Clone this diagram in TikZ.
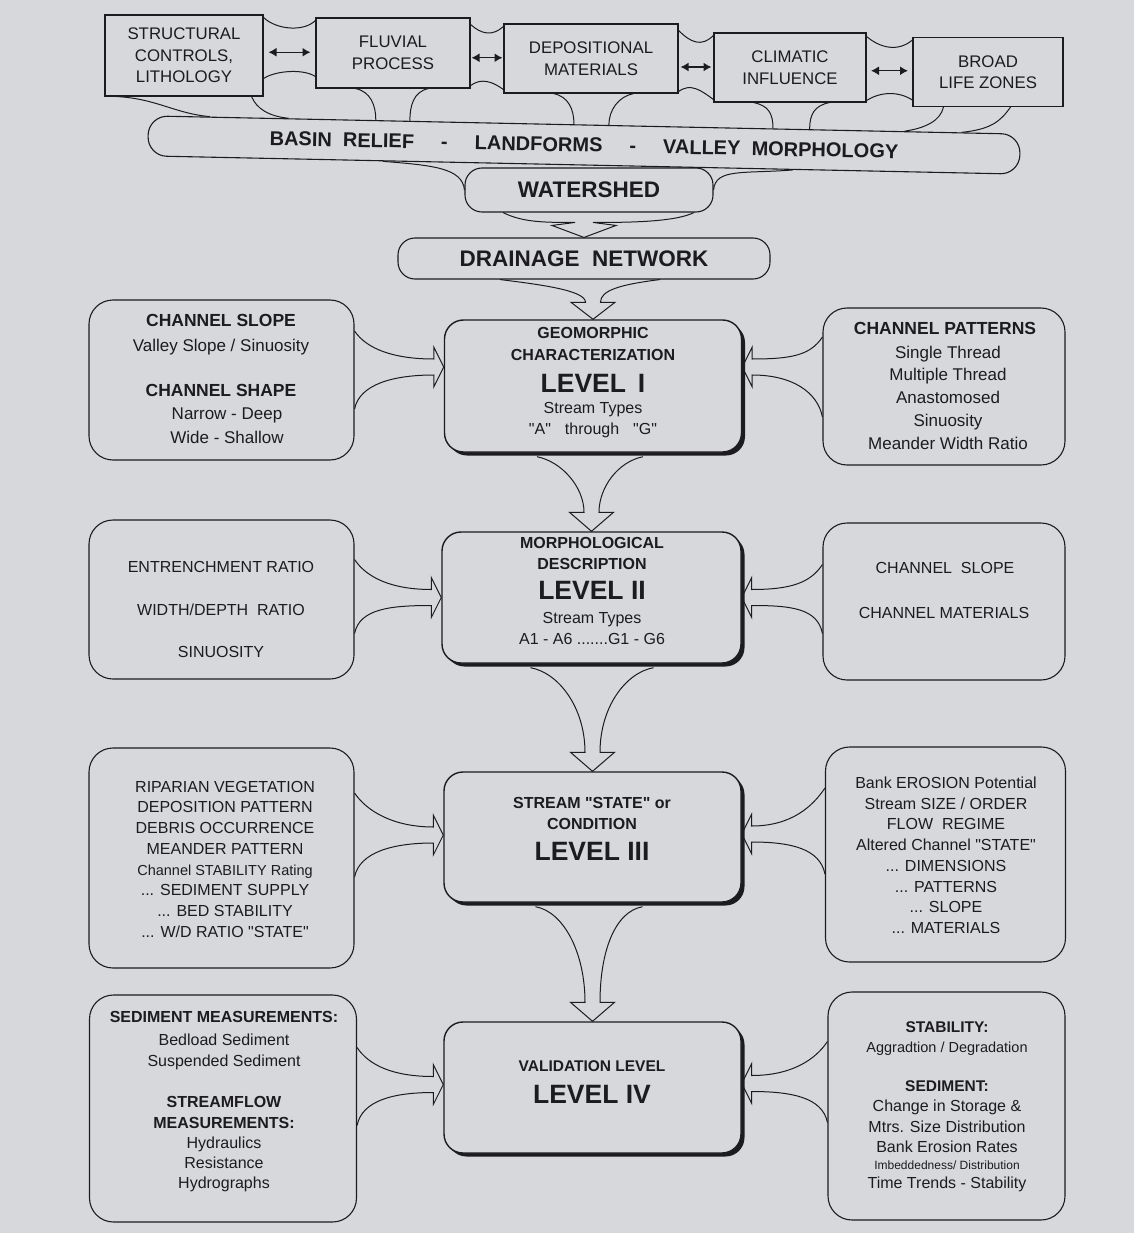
\documentclass[tikz,border=0pt]{standalone}
\usepackage{fontspec}
\setmainfont{Liberation Sans}[Ligatures=TeXOff]
\usetikzlibrary{calc,arrows.meta,shadows}
\definecolor{bg}{RGB}{215,216,220}
\definecolor{ink}{RGB}{28,28,30}
\newcommand\fsz[2]{\fontsize{#1}{#2}\selectfont}
\tikzset{
 tx/.style={inner sep=0pt, text depth=0pt, text=ink},
 B15/.style={tx, font=\fsz{15.5}{18}\bfseries, text height=11.2pt},
 B16/.style={tx, font=\fsz{16}{19}\bfseries, text height=11.5pt},
 B17/.style={tx, font=\fsz{17.5}{21}\bfseries, text height=12.6pt},
 BL/.style={tx, font=\fsz{26.5}{30}\bfseries, text height=19.1pt},
 R12/.style={tx, font=\fsz{12}{14}, text height=8.6pt},
 R14/.style={tx, font=\fsz{14.5}{17}, text height=10.4pt},
 R16/.style={tx, font=\fsz{16}{19}, text height=11.5pt},
 R17/.style={tx, font=\fsz{17}{20}, text height=12.2pt},
 topbox/.style={draw=ink, line width=1.1pt, inner sep=0pt, align=center, text=ink, font=\fsz{16.8}{21.5}},
 pill/.style={draw=ink, line width=1.1pt, rounded corners=17pt, inner sep=0pt, text=ink, font=\fsz{22.5}{26}\bfseries},
 side/.style={draw=ink, line width=1.1pt, rounded corners=24pt, inner sep=0pt},
 lvl/.style={draw=ink, line width=1.4pt, rounded corners=19pt, inner sep=0pt, fill=bg,
   drop shadow={shadow xshift=3.5pt, shadow yshift=-3.5pt, opacity=1, fill=ink}},
 conn/.style={draw=ink, line width=1pt},
 dbl/.style={draw=ink, line width=1.4pt, {Latex[length=8pt,width=9pt]}-{Latex[length=8pt,width=9pt]}},
}
% text line: style, name, x, y, text
\newcommand\T[5]{\node[#1] (#2) at (#3,#4) {#5};}
% hollow arrow pointing right: upper start, lower start, tip (named coordinate)
\newcommand\arrR[3]{\draw[conn] (#1) .. controls +(12,18) and +(-40,0) .. ($(#3)+(-10,-8)$) -- ($(#3)+(-10,-20)$) -- (#3) -- ($(#3)+(-10,20)$) -- ($(#3)+(-10,8)$) .. controls +(-40,0) and +(5,-25) .. (#2);}
% hollow arrow pointing left
\newcommand\arrL[3]{\draw[conn] (#1) .. controls +(-12,18) and +(40,0) .. ($(#3)+(10,-8)$) -- ($(#3)+(10,-20)$) -- (#3) -- ($(#3)+(10,20)$) -- ($(#3)+(10,8)$) .. controls +(40,0) and +(-5,-25) .. (#2);}
% hollow arrow pointing down: left start, right start, tip, head length, horiz ctrl, vert ctrl
\newcommand\arrD[6]{\draw[conn] (#1) .. controls +(#5,5) and +(0,-#6) .. ($(#3)+(-7.5,-#4)$) -- ($(#3)+(-22,-#4)$) -- (#3) -- ($(#3)+(22,-#4)$) -- ($(#3)+(7.5,-#4)$) .. controls +(0,-#6) and +(-#5,5) .. (#2);}

\begin{document}
\begin{tikzpicture}[x=1pt,y=-1pt]
\useasboundingbox (0,0) rectangle (1134,1233);
\fill[bg] (0,0) rectangle (1134,1233);

% ---------- top row ----------
\node[topbox, minimum width=158pt, minimum height=81pt] (S) at (184,55.5) {STRUCTURAL\\CONTROLS,\\LITHOLOGY};
\node[topbox, minimum width=154pt, minimum height=70pt] (F) at (393,53) {FLUVIAL\\PROCESS};
\node[topbox, minimum width=174pt, minimum height=69pt] (D) at (591,58.5) {DEPOSITIONAL\\MATERIALS};
\node[topbox, minimum width=152pt, minimum height=69pt] (C) at (790,67.5) {CLIMATIC\\INFLUENCE};
\node[topbox, minimum width=150pt, minimum height=69pt] (B) at (988,72) {BROAD\\LIFE ZONES};

\coordinate (SF) at ($(S.east)!0.5!(F.west)+(0,-2)$);
\coordinate (FD) at ($(F.east)!0.5!(D.west)+(0,2)$);
\coordinate (DC) at ($(D.east)!0.5!(C.west)+(0,4)$);
\coordinate (CB) at ($(C.east)!0.5!(B.west)+(0,1)$);
\draw[dbl] ($(SF)+(-21,0)$) -- ($(SF)+(21,0)$);
\draw[dbl] ($(FD)+(-15.5,0)$) -- ($(FD)+(15.5,0)$);
\draw[dbl] ($(DC)+(-15.5,0)$) -- ($(DC)+(15.5,0)$);
\draw[dbl] ($(CB)+(-18.5,0)$) -- ($(CB)+(18.5,0)$);

% joining curves between top boxes
\draw[conn] ($(S.north east)+(0,3)$) .. controls +(12,12) and +(-12,12) .. ($(F.north west)+(0,3)$);
\draw[conn] ($(S.south east)+(0,-18)$) .. controls +(12,-8) and +(-12,-8) .. ($(F.south west)+(0,-12)$);
\draw[conn] ($(F.north east)+(0,7)$) .. controls +(11,10) and +(-11,10) .. ($(D.north west)+(0,3)$);
\draw[conn] ($(F.south east)+(0,-3)$) .. controls +(11,-8) and +(-11,-8) .. ($(D.south west)+(0,-4)$);
\draw[conn] ($(D.north east)+(0,7)$) .. controls +(12,12) and +(-12,12) .. ($(C.north west)+(0,3)$);
\draw[conn] ($(D.south east)+(0,-2)$) .. controls +(12,-9) and +(-12,-9) .. ($(C.south west)+(0,-3)$);
\draw[conn] ($(C.north east)+(0,4)$) .. controls +(14,12) and +(-14,12) .. ($(B.north west)+(0,3)$);
\draw[conn] ($(C.south east)+(0,-2)$) .. controls +(14,-9) and +(-14,-9) .. ($(B.south west)+(0,-7)$);

% ---------- band ----------
\node[draw=ink, line width=1.1pt, rounded corners=19pt, minimum width=872pt, minimum height=40pt,
      rotate=-1.2, inner sep=0pt, font=\fsz{20}{24}\bfseries, text=ink] (BR) at (584,145)
  {BASIN\ \ RELIEF\hspace{27pt}-\hspace{27pt}LANDFORMS\hspace{27pt}-\hspace{27pt}VALLEY\ \ MORPHOLOGY};

% tails from the top boxes into the band
\draw[conn] ($(S.south west)+(12,0)$) .. controls +(40,2) and +(-35,-3) .. ($(BR.north west)!0.071!(BR.north east)$);
\draw[conn] ($(S.south east)+(-12,0)$) .. controls +(5,12) and +(-20,-2) .. ($(BR.north west)!0.161!(BR.north east)$);
\draw[conn] ($(F.south west)+(40,0)$) .. controls +(15,3) and +(0,-15) .. ($(BR.north west)!0.261!(BR.north east)$);
\draw[conn] ($(F.south east)+(-42,0)$) .. controls +(-15,3) and +(0,-15) .. ($(BR.north west)!0.300!(BR.north east)$);
\draw[conn] ($(D.south west)+(50,0)$) .. controls +(15,3) and +(0,-15) .. ($(BR.north west)!0.488!(BR.north east)$);
\draw[conn] ($(D.south east)+(-45,0)$) .. controls +(-15,3) and +(0,-15) .. ($(BR.north west)!0.528!(BR.north east)$);
\draw[conn] ($(C.south west)+(40,0)$) .. controls +(15,3) and +(0,-15) .. ($(BR.north west)!0.716!(BR.north east)$);
\draw[conn] ($(C.south east)+(-37,0)$) .. controls +(-15,3) and +(0,-15) .. ($(BR.north west)!0.758!(BR.north east)$);
\draw[conn] ($(B.south west)+(31,0)$) .. controls +(-3,14) and +(20,-3) .. ($(BR.north west)!0.867!(BR.north east)$);
\draw[conn] ($(B.south east)+(-53,0)$) .. controls +(-10,14) and +(30,-3) .. ($(BR.north west)!0.932!(BR.north east)$);

% ---------- watershed / drainage ----------
\node[pill, minimum width=248pt, minimum height=44pt] (WS) at (589,190) {WATERSHED};
\node[pill, minimum width=372pt, minimum height=41pt] (DR) at (584,258.5) {DRAINAGE\ \ NETWORK};

\draw[conn] ($(BR.south west)!0.27!(BR.south east)$) .. controls +(50,4) and +(-2,-22) .. (WS.west);
\draw[conn] ($(BR.south west)!0.74!(BR.south east)$) .. controls +(-50,4) and +(2,-22) .. (WS.east);

\draw[conn] ($(WS.south)+(-86,0)$) .. controls +(20,10) and +(-30,0) .. ($(DR.north)+(-9,-15)$)
  -- ($(DR.north)+(-32,-12)$) -- (DR.north) -- ($(DR.north)+(32,-12)$) -- ($(DR.north)+(9,-15)$)
  .. controls +(30,0) and +(-20,10) .. ($(WS.south)+(105,0)$);

% ---------- side boxes ----------
\node[side, minimum width=265pt, minimum height=160pt] (LB1) at (221.5,380) {};
\node[side, minimum width=265pt, minimum height=159pt] (LB2) at (221.5,599.5) {};
\node[side, minimum width=265pt, minimum height=220pt] (LB3) at (221.5,858) {};
\node[side, minimum width=267pt, minimum height=227pt] (LB4) at (223,1108.5) {};
\node[side, minimum width=242pt, minimum height=157pt] (RB1) at (944,386.5) {};
\node[side, minimum width=242pt, minimum height=157pt] (RB2) at (944,601.5) {};
\node[side, minimum width=240pt, minimum height=215pt] (RB3) at (945.5,854.5) {};
\node[side, minimum width=237pt, minimum height=228pt] (RB4) at (946.5,1106) {};

% ---------- level boxes ----------
\node[lvl, minimum width=297pt, minimum height=132pt] (L1) at (593,386) {};
\node[lvl, minimum width=299pt, minimum height=131pt] (L2) at (591.5,597.5) {};
\node[lvl, minimum width=297pt, minimum height=130pt] (L3) at (592.5,837) {};
\node[lvl, minimum width=297pt, minimum height=131pt] (L4) at (592.5,1087.5) {};

% arrow tips on the level boxes
\coordinate (tipAw) at ($(L1.west)+(0,-19)$);
\coordinate (tipAe) at ($(L1.east)+(0,-19)$);
\coordinate (tipBw) at (L2.west);
\coordinate (tipBe) at (L2.east);
\coordinate (tipCw) at ($(L3.west)+(0,-2)$);
\coordinate (tipCe) at ($(L3.east)+(0,-3)$);
\coordinate (tipDw) at ($(L4.west)+(0,-3)$);
\coordinate (tipDe) at ($(L4.east)+(0,-4)$);

% ---------- texts ----------
\T{B17}{LB1a}{221}{320}{CHANNEL SLOPE}
\T{R17}{LB1b}{221}{345}{Valley Slope / Sinuosity}
\T{B17}{LB1c}{221}{390}{CHANNEL SHAPE}
\T{R17}{LB1d}{227}{413}{Narrow - Deep}
\T{R17}{LB1e}{227}{437}{Wide - Shallow}

\T{B16}{L1ta}{593}{333}{GEOMORPHIC}
\T{B16}{L1tb}{593}{355}{CHARACTERIZATION}
\T{BL}{L1tc}{593}{383}{LEVEL\hspace{0.45em}I}
\T{R16}{L1td}{593}{408}{Stream Types}
\T{R16}{L1te}{593}{429}{"A"\hspace{14pt}through\hspace{14pt}"G"}

\T{B17}{RB1a}{945}{328}{CHANNEL PATTERNS}
\T{R17}{RB1b}{948}{352}{Single Thread}
\T{R17}{RB1c}{948}{374}{Multiple Thread}
\T{R17}{RB1d}{948}{397}{Anastomosed}
\T{R17}{RB1e}{948}{420}{Sinuosity}
\T{R17}{RB1f}{948}{443}{Meander Width Ratio}

\T{R16}{LB2a}{221}{567}{ENTRENCHMENT RATIO}
\T{R16}{LB2b}{221}{610}{WIDTH/DEPTH\ \ RATIO}
\T{R16}{LB2c}{221}{652}{SINUOSITY}

\T{B16}{L2ta}{592}{543}{MORPHOLOGICAL}
\T{B16}{L2tb}{592}{564}{DESCRIPTION}
\T{BL}{L2tc}{592}{590}{LEVEL II}
\T{R16}{L2td}{592}{618}{Stream Types}
\T{R16}{L2te}{592}{639}{A1 - A6 .......G1 - G6}

\T{R16}{RB2a}{945}{568}{CHANNEL\ \ SLOPE}
\T{R16}{RB2b}{944}{613}{CHANNEL MATERIALS}

\T{R16}{LB3a}{225}{787}{RIPARIAN VEGETATION}
\T{R16}{LB3b}{225}{807}{DEPOSITION PATTERN}
\T{R16}{LB3c}{225}{828}{DEBRIS OCCURRENCE}
\T{R16}{LB3d}{225}{849}{MEANDER PATTERN}
\T{R14}{LB3e}{225}{870}{Channel STABILITY Rating}
\T{R16}{LB3f}{225}{890}{... SEDIMENT SUPPLY}
\T{R16}{LB3g}{225}{911}{... BED STABILITY}
\T{R16}{LB3h}{225}{932}{... W/D RATIO "STATE"}

\T{B16}{L3ta}{592}{803}{STREAM "STATE" or}
\T{B16}{L3tb}{592}{824}{CONDITION}
\T{BL}{L3tc}{592}{851}{LEVEL III}

\T{R16}{RB3a}{946}{783}{Bank EROSION Potential}
\T{R16}{RB3b}{946}{804}{Stream SIZE / ORDER}
\T{R16}{RB3c}{946}{824}{FLOW\ \ REGIME}
\T{R16}{RB3d}{946}{845}{Altered Channel "STATE"}
\T{R16}{RB3e}{946}{866}{... DIMENSIONS}
\T{R16}{RB3f}{946}{887}{... PATTERNS}
\T{R16}{RB3g}{946}{907}{... SLOPE}
\T{R16}{RB3h}{946}{928}{... MATERIALS}

\T{B16}{LB4a}{224}{1017}{SEDIMENT MEASUREMENTS:}
\T{R16}{LB4b}{224}{1040}{Bedload Sediment}
\T{R16}{LB4c}{224}{1061}{Suspended Sediment}
\T{B16}{LB4d}{224}{1102}{STREAMFLOW}
\T{B16}{LB4e}{224}{1123}{MEASUREMENTS:}
\T{R16}{LB4f}{224}{1143}{Hydraulics}
\T{R16}{LB4g}{224}{1163}{Resistance}
\T{R16}{LB4h}{224}{1183}{Hydrographs}

\T{B15}{L4ta}{592}{1066}{VALIDATION LEVEL}
\T{BL}{L4tb}{592}{1094}{LEVEL IV}

\T{B15}{RB4a}{947}{1027}{STABILITY:}
\T{R14}{RB4b}{947}{1047}{Aggradtion / Degradation}
\T{B15}{RB4c}{947}{1086}{SEDIMENT:}
\T{R16}{RB4d}{947}{1106}{Change in Storage \&}
\T{R16}{RB4e}{947}{1127}{Mtrs. Size Distribution}
\T{R16}{RB4f}{947}{1147}{Bank Erosion Rates}
\T{R12}{RB4g}{947}{1165}{Imbeddedness/ Distribution}
\T{R16}{RB4h}{947}{1183}{Time Trends - Stability}

% ---------- vertical arrows ----------
\arrD{$(DR.south)+(-84,0)$}{$(DR.south)+(76,0)$}{L1.north}{17}{40}{12}
\arrD{$(L1.south)+(-56,4)$}{$(L1.south)+(50,4)$}{L2.north}{19}{25}{25}
\arrD{$(L2.south)+(-61,4)$}{$(L2.south)+(62,4)$}{L3.north}{19}{28}{45}
\arrD{$(L3.south)+(-57,4)$}{$(L3.south)+(50,4)$}{L4.north}{19}{28}{50}

% ---------- side arrows ----------
\arrR{$(LB1.east |- tipAw)+(0,-36)$}{$(LB1.east |- tipAw)+(0,42)$}{tipAw}
\arrR{$(LB2.east |- tipBw)+(0,-38)$}{$(LB2.east |- tipBw)+(0,36)$}{tipBw}
\arrR{$(LB3.east |- tipCw)+(0,-42)$}{$(LB3.east |- tipCw)+(0,42)$}{tipCw}
\arrR{$(LB4.east |- tipDw)+(0,-37)$}{$(LB4.east |- tipDw)+(0,41)$}{tipDw}
\arrL{$(RB1.west |- tipAe)+(0,-30)$}{$(RB1.west |- tipAe)+(0,50)$}{tipAe}
\arrL{$(RB2.west |- tipBe)+(0,-33)$}{$(RB2.west |- tipBe)+(0,36)$}{tipBe}
\arrL{$(RB3.west |- tipCe)+(0,-46)$}{$(RB3.west |- tipCe)+(0,40)$}{tipCe}
\arrL{$(RB4.west |- tipDe)+(0,-42)$}{$(RB4.west |- tipDe)+(0,39)$}{tipDe}
\end{tikzpicture}
\end{document}
